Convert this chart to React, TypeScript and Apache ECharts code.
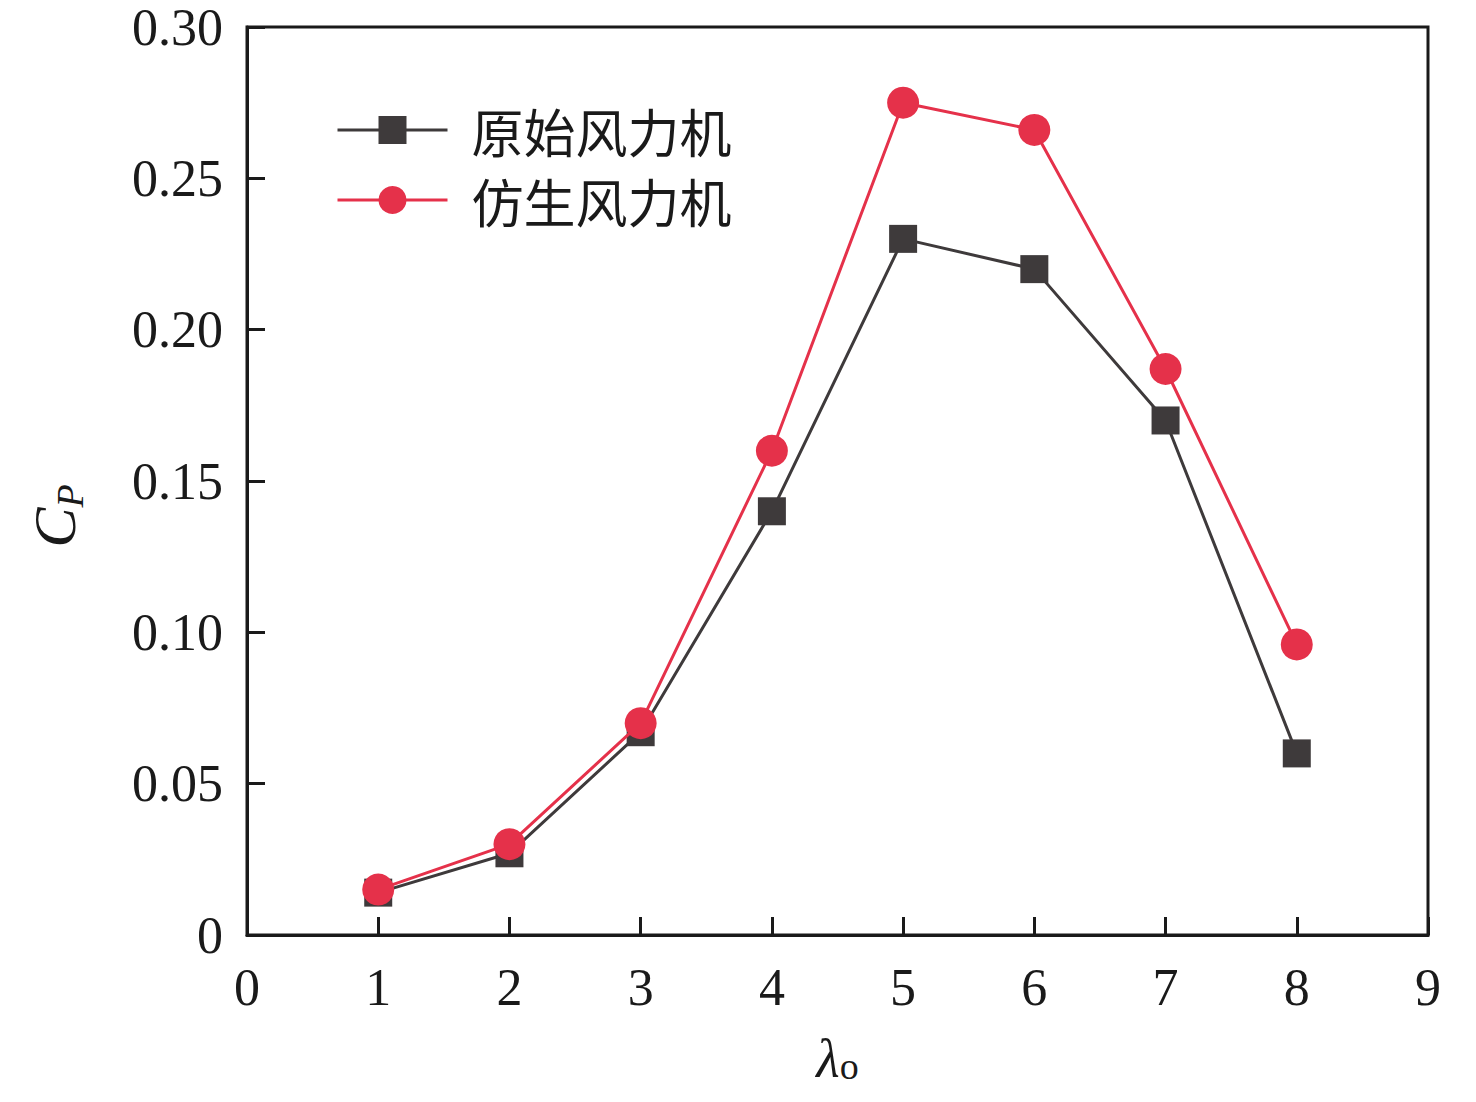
import React, { useEffect, useRef } from "react";
import * as echarts from "echarts";

const xValues = [1, 2, 3, 4, 5, 6, 7, 8];
const originalCp = [0.014, 0.027, 0.067, 0.14, 0.23, 0.22, 0.17, 0.06];
const bionicCp = [0.015, 0.03, 0.07, 0.16, 0.275, 0.266, 0.187, 0.096];
const seriesNames = ["原始风力机", "仿生风力机"];

const SERIF = "'Liberation Serif', 'Times New Roman', serif";
const CJK = "'Noto Sans CJK SC', sans-serif";

export default function App() {
  const ref = useRef<HTMLDivElement>(null);
  useEffect(() => {
    if (!ref.current) return;
    const chart = echarts.init(ref.current, undefined, { renderer: "svg" });
    const axisColor = "#1a1a1a";
    chart.setOption({
      animation: false,
      backgroundColor: "#ffffff",
      grid: {
        left: 247,
        top: 27,
        right: 48,
        bottom: 167,
        show: true,
        borderColor: axisColor,
        borderWidth: 3,
        containLabel: false,
      },
      legend: {
        orient: "vertical",
        left: 336,
        top: 104,
        padding: 0,
        itemWidth: 110,
        itemHeight: 35,
        itemGap: 18,
        data: seriesNames,
        lineStyle: { width: 3 },
        textStyle: {
          fontFamily: CJK,
          fontSize: 52,
          lineHeight: 52,
          color: "#1a1a1a",
          padding: [0, 0, 0, 19],
        },
      },
      xAxis: {
        type: "value",
        min: 0,
        max: 9,
        interval: 1,
        name: "{l|λ}{s|o}",
        nameLocation: "middle",
        nameGap: 97,
        nameTextStyle: {
          rich: {
            l: { fontFamily: SERIF, fontStyle: "italic", fontSize: 54, color: "#1a1a1a" },
            s: { fontFamily: SERIF, fontSize: 38, color: "#1a1a1a", padding: [14, 0, 0, 0] },
          },
        },
        axisLine: { show: true, lineStyle: { color: axisColor, width: 3 } },
        axisTick: { show: true, inside: true, length: 18, lineStyle: { color: axisColor, width: 3 } },
        axisLabel: { fontFamily: SERIF, fontSize: 52, color: "#1a1a1a", margin: 26 },
        splitLine: { show: false },
      },
      yAxis: {
        type: "value",
        min: 0,
        max: 0.3,
        interval: 0.05,
        name: "{c|C}{s|P}",
        nameLocation: "middle",
        nameGap: 158,
        nameRotate: 90,
        nameTextStyle: {
          rich: {
            c: { fontFamily: SERIF, fontStyle: "italic", fontSize: 60, color: "#1a1a1a" },
            s: { fontFamily: SERIF, fontStyle: "italic", fontSize: 38, color: "#1a1a1a", padding: [30, 70, 0, 0] },
          },
        },
        axisLine: { show: true, lineStyle: { color: axisColor, width: 3 } },
        axisTick: { show: true, inside: true, length: 18, lineStyle: { color: axisColor, width: 3 } },
        axisLabel: {
          fontFamily: SERIF,
          fontSize: 52,
          color: "#1a1a1a",
          margin: 24,
          formatter: (v: number) => (v === 0 ? "0" : v.toFixed(2)),
        },
        splitLine: { show: false },
      },
      series: [
        {
          name: seriesNames[0],
          type: "line",
          data: xValues.map((x, i) => [x, originalCp[i]]),
          symbol: "rect",
          symbolSize: 28,
          lineStyle: { color: "#3e3a3b", width: 3 },
          itemStyle: { color: "#3e3a3b" },
          z: 2,
        },
        {
          name: seriesNames[1],
          type: "line",
          data: xValues.map((x, i) => [x, bionicCp[i]]),
          symbol: "circle",
          symbolSize: 32,
          lineStyle: { color: "#e5314a", width: 3 },
          itemStyle: { color: "#e5314a" },
          z: 3,
        },
      ],
    });
    return () => chart.dispose();
  }, []);
  return (
    <div
      ref={ref}
      style={{ position: "fixed", left: 0, top: 0, width: 1476, height: 1102, background: "#fff" }}
    />
  );
}
